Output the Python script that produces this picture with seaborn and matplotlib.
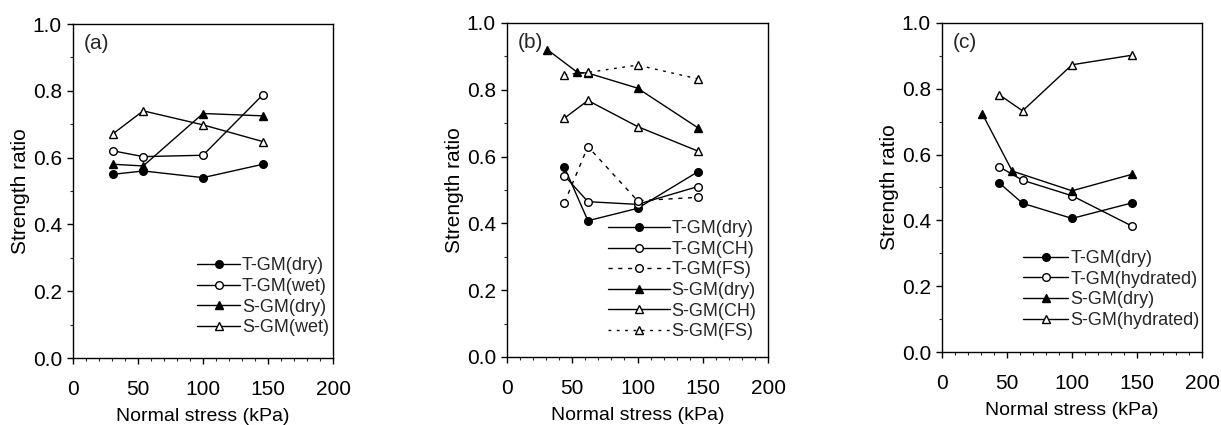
import matplotlib
matplotlib.use("Agg")
import matplotlib.pyplot as plt
import seaborn as sns
import pandas as pd
from matplotlib.ticker import MultipleLocator

sns.set_style("ticks")
plt.rcParams['font.family'] = ['Liberation Sans', 'DejaVu Sans']

# ---------------- data ----------------
# Panel (a)
a_tgm_dry_x = [31, 54, 100, 146]
a_tgm_dry_y = [0.55, 0.56, 0.54, 0.58]
a_tgm_wet_x = [31, 54, 100, 146]
a_tgm_wet_y = [0.62, 0.603, 0.607, 0.788]
a_sgm_dry_x = [31, 54, 100, 146]
a_sgm_dry_y = [0.58, 0.575, 0.732, 0.725]
a_sgm_wet_x = [31, 54, 100, 146]
a_sgm_wet_y = [0.672, 0.74, 0.698, 0.648]

# Panel (b)
b_tgm_dry_x = [44, 62, 100, 146]
b_tgm_dry_y = [0.568, 0.408, 0.445, 0.554]
b_tgm_ch_x = [44, 62, 100, 146]
b_tgm_ch_y = [0.543, 0.465, 0.457, 0.51]
b_tgm_fs_x = [44, 62, 100, 146]
b_tgm_fs_y = [0.462, 0.63, 0.468, 0.478]
b_sgm_dry_x = [31, 54, 62, 100, 146]
b_sgm_dry_y = [0.92, 0.852, 0.85, 0.805, 0.687]
b_sgm_ch_x = [44, 62, 100, 146]
b_sgm_ch_y = [0.715, 0.768, 0.69, 0.617]
b_sgm_fs_x = [44, 62, 100, 146]
b_sgm_fs_y = [0.845, 0.852, 0.874, 0.833]

# Panel (c)
c_tgm_dry_x = [44, 62, 100, 146]
c_tgm_dry_y = [0.514, 0.452, 0.406, 0.453]
c_tgm_hyd_x = [44, 62, 100, 146]
c_tgm_hyd_y = [0.563, 0.522, 0.475, 0.383]
c_sgm_dry_x = [31, 54, 100, 146]
c_sgm_dry_y = [0.724, 0.55, 0.49, 0.54]
c_sgm_hyd_x = [44, 62, 100, 146]
c_sgm_hyd_y = [0.782, 0.733, 0.873, 0.902]

panel_labels = ["(a)", "(b)", "(c)"]
x_label = "Normal stress (kPa)"
y_label = "Strength ratio"
x_ticks = [0, 50, 100, 150, 200]
x_ticklabels = ["0", "50", "100", "150", "200"]
y_ticks = [0.0, 0.2, 0.4, 0.6, 0.8, 1.0]
y_ticklabels = ["0.0", "0.2", "0.4", "0.6", "0.8", "1.0"]

# series: (label, x, y, marker, filled, linestyle)
panels = [
    [("T-GM(dry)", a_tgm_dry_x, a_tgm_dry_y, "o", True, "-"),
     ("T-GM(wet)", a_tgm_wet_x, a_tgm_wet_y, "o", False, "-"),
     ("S-GM(dry)", a_sgm_dry_x, a_sgm_dry_y, "^", True, "-"),
     ("S-GM(wet)", a_sgm_wet_x, a_sgm_wet_y, "^", False, "-")],
    [("T-GM(dry)", b_tgm_dry_x, b_tgm_dry_y, "o", True, "-"),
     ("T-GM(CH)", b_tgm_ch_x, b_tgm_ch_y, "o", False, "-"),
     ("T-GM(FS)", b_tgm_fs_x, b_tgm_fs_y, "o", False, (0, (3, 4))),
     ("S-GM(dry)", b_sgm_dry_x, b_sgm_dry_y, "^", True, "-"),
     ("S-GM(CH)", b_sgm_ch_x, b_sgm_ch_y, "^", False, "-"),
     ("S-GM(FS)", b_sgm_fs_x, b_sgm_fs_y, "^", False, (0, (2, 4)))],
    [("T-GM(dry)", c_tgm_dry_x, c_tgm_dry_y, "o", True, "-"),
     ("T-GM(hydrated)", c_tgm_hyd_x, c_tgm_hyd_y, "o", False, "-"),
     ("S-GM(dry)", c_sgm_dry_x, c_sgm_dry_y, "^", True, "-"),
     ("S-GM(hydrated)", c_sgm_hyd_x, c_sgm_hyd_y, "^", False, "-")],
]

W, H = 1221, 425
fig = plt.figure(figsize=(W / 100, H / 100), dpi=100)
# axes boxes in pixels: left, top, right, bottom
boxes = [(73, 24, 333, 358), (507, 23, 768, 357), (942, 23, 1202, 352)]
legend_anchor = [(0.985, 0.065), (0.955, 0.05), (0.99, 0.07)]
handle_len = [2.4, 3.4, 2.5]

for i, (series, box) in enumerate(zip(panels, boxes)):
    l, t, r, b = box
    ax = fig.add_axes([l / W, 1 - b / H, (r - l) / W, (b - t) / H])
    for (lab, xs, ys, mk, filled, ls) in series:
        df = pd.DataFrame({"x": xs, "y": ys})
        sns.lineplot(data=df, x="x", y="y", ax=ax, color="black", sort=False,
                     marker=mk, markersize=5.5 if mk == "o" else 6,
                     markerfacecolor="black" if filled else "white",
                     markeredgecolor="black", markeredgewidth=1.0,
                     linestyle=ls, linewidth=1.0, label=lab)
    ax.set_xlim(0, 200)
    ax.set_ylim(0, 1.0)
    ax.set_xticks(x_ticks)
    ax.set_xticklabels(x_ticklabels)
    ax.set_yticks(y_ticks)
    ax.set_yticklabels(y_ticklabels)
    ax.xaxis.set_minor_locator(MultipleLocator(10))
    ax.yaxis.set_minor_locator(MultipleLocator(0.1))
    ax.tick_params(axis="both", which="major", direction="out", length=4, width=1,
                   labelsize=15, colors="black", pad=4)
    ax.tick_params(axis="both", which="minor", direction="out", length=2.5, width=0.8)
    ax.tick_params(axis="x", pad=12)
    for s in ax.spines.values():
        s.set_visible(True)
        s.set_linewidth(1.0)
        s.set_color("black")
    ax.set_xlabel(x_label, fontsize=14, labelpad=6, color="black")
    ax.set_ylabel(y_label, fontsize=15, labelpad=2, color="black")
    ax.text(0.04, 0.97, panel_labels[i], transform=ax.transAxes, fontsize=15,
            va="top", ha="left")
    ax.legend(loc="lower right", bbox_to_anchor=legend_anchor[i], frameon=False,
              fontsize=13, handlelength=handle_len[i], handletextpad=0.1,
              labelspacing=0.2, borderaxespad=0, borderpad=0)

fig.savefig("out.png", dpi=100)
